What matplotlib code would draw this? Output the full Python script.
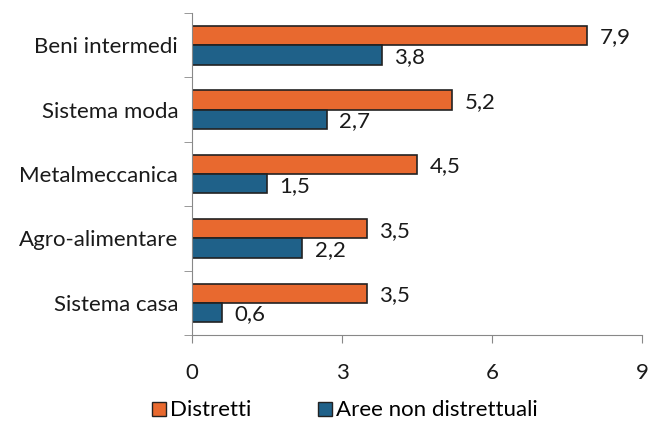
import numpy as np
import matplotlib.pyplot as plt
from matplotlib.patches import Patch

categories = ['Beni intermedi', 'Sistema moda', 'Metalmeccanica', 'Agro-alimentare', 'Sistema casa']
distretti = [7.9, 5.2, 4.5, 3.5, 3.5]
non_distretti = [3.8, 2.7, 1.5, 2.2, 0.6]
series_names = ['Distretti', 'Aree non distrettuali']
xticks = [0, 3, 6, 9]

orange = '#E8692F'
blue = '#1F6189'

plt.rcParams['font.family'] = ['Lato', 'DejaVu Sans']

fig = plt.figure(figsize=(6.51, 4.21), dpi=100)
ax = fig.add_axes([0.295, 0.204, 0.691, 0.765])

y = np.arange(len(categories))[::-1].astype(float)
h = 0.3
b1 = ax.barh(y + h / 2, distretti, height=h, color=orange, edgecolor='#222222', linewidth=1.2)
b2 = ax.barh(y - h / 2, non_distretti, height=h, color=blue, edgecolor='#222222', linewidth=1.2)

for bars, vals in ((b1, distretti), (b2, non_distretti)):
    for bar, v in zip(bars, vals):
        ax.text(bar.get_width() + 0.25, bar.get_y() + bar.get_height() / 2 - 0.03,
                f'{v:.1f}'.replace('.', ','), va='center', ha='left', fontsize=16, color='#1a1a1a')

ax.set_xlim(0, 9)
ax.set_ylim(-0.5, len(categories) - 0.5)
ax.set_xticks(xticks)
ax.set_xticklabels([str(t) for t in xticks], fontsize=16, color='#1a1a1a')
ax.set_yticks(y)
ax.set_yticklabels(categories, fontsize=16, color='#1a1a1a')
ax.set_yticks(np.arange(-0.5, len(categories)), minor=True)
ax.tick_params(axis='y', which='major', length=0, pad=10)
ax.tick_params(axis='y', which='minor', length=6, color='#888888')
ax.tick_params(axis='x', length=6, color='#888888', pad=14)
for s in ['top', 'right']:
    ax.spines[s].set_visible(False)
for s in ['left', 'bottom']:
    ax.spines[s].set_color('#888888')

handles = [Patch(facecolor=orange, edgecolor='#222222'), Patch(facecolor=blue, edgecolor='#222222')]
fig.legend(handles, series_names, loc='center', bbox_to_anchor=(0.53, 0.025), ncol=2, frameon=False,
           fontsize=16, handlelength=0.6, handleheight=0.6, handletextpad=0.2, columnspacing=3.0)

fig.savefig('out.png', dpi=100)
